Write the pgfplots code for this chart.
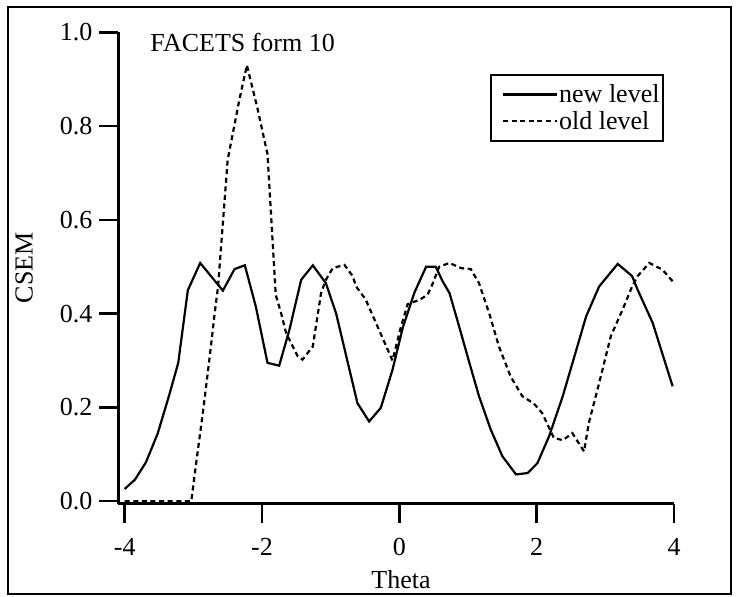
\documentclass[border=0pt]{standalone}
\usepackage{fontspec}
\setmainfont{Liberation Serif}
\usepackage{pgfplots}
\pgfplotsset{compat=1.18}
\begin{document}
\begin{tikzpicture}[font=\fontsize{13}{15.6}\selectfont]
\useasboundingbox (-59.25pt,-46.25pt) rectangle (311.75pt,251.75pt);
\draw[line width=1.2pt] (-55.25pt,-45.25pt) rectangle (306.25pt,248.25pt);
\begin{axis}[
  at={(0pt,0pt)}, anchor=south west,
  scale only axis, width=277.75pt, height=235.6pt,
  xmin=-4.09, xmax=4, ymin=-0.005, ymax=1,
  axis x line*=bottom, axis y line*=left,
  axis line style={line width=1.3pt, -},
  xtick={-4,-2,0,2,4}, ytick={0,0.2,0.4,0.6,0.8,1},
  tick align=outside, major tick length=9.5pt,
  tick style={line width=1.3pt, black},
  minor tick num=0,
  /pgf/number format/assume math mode=true,
  yticklabel style={/pgf/number format/.cd, fixed, fixed zerofill, precision=1},
  xticklabel style={yshift=-4.5pt},
  xlabel={Theta}, ylabel={CSEM},
  xlabel style={at={(axis description cs:0.5086,-0.1411)}, anchor=north, inner sep=0pt},
  ylabel style={at={(axis description cs:-0.1863,0.5)}, anchor=north, inner sep=0pt},
  legend cell align=left,
  legend image code/.code={\path (-4.5pt,0pt); \draw[#1] (0pt,0pt) -- (27pt,0pt);},
  legend style={at={(axis cs:1.32,0.911)}, anchor=north west, draw=black, line width=1.0pt,
    inner xsep=1pt, inner ysep=3.7pt, row sep=1.2pt,
    nodes={inner ysep=1.5pt, inner xsep=0.5pt, text height=8.6pt, text depth=0.5pt},
    font=\fontsize{13}{15.6}\selectfont},
]
\addplot[black, line width=1.1pt, solid] coordinates {
(-4.0,0.026) (-3.85,0.046) (-3.69,0.083) (-3.52,0.144) (-3.35,0.227) (-3.22,0.295)
(-3.08,0.45) (-2.90,0.508) (-2.57,0.449) (-2.40,0.495) (-2.25,0.503) (-2.09,0.415)
(-1.92,0.295) (-1.75,0.289) (-1.60,0.366) (-1.43,0.472) (-1.26,0.503) (-1.07,0.465)
(-0.92,0.40) (-0.75,0.295) (-0.61,0.209) (-0.44,0.170) (-0.27,0.199) (-0.10,0.28)
(0.05,0.37) (0.22,0.445) (0.39,0.50) (0.53,0.50) (0.63,0.469) (0.73,0.444) (0.87,0.373)
(1.02,0.295) (1.16,0.224) (1.33,0.153) (1.50,0.096) (1.70,0.057) (1.87,0.060)
(2.01,0.081) (2.18,0.138) (2.38,0.224) (2.55,0.309) (2.72,0.394) (2.91,0.458)
(3.18,0.506) (3.39,0.48) (3.47,0.451) (3.69,0.38) (3.98,0.245)
};
\addlegendentry{new level}
\addplot[black, line width=1.1pt, dash pattern=on 2.5pt off 1.8pt] coordinates {
(-4.0,0.0) (-3.03,0.0) (-2.96,0.08) (-2.86,0.19) (-2.76,0.31) (-2.69,0.40) (-2.64,0.458)
(-2.50,0.728) (-2.33,0.856) (-2.22,0.93) (-2.07,0.84) (-1.92,0.74) (-1.80,0.44)
(-1.72,0.40) (-1.65,0.359) (-1.48,0.309) (-1.41,0.302) (-1.26,0.33) (-1.14,0.444)
(-1.07,0.472) (-0.97,0.497) (-0.80,0.504) (-0.68,0.48) (-0.63,0.458) (-0.49,0.43)
(-0.34,0.38) (-0.10,0.30) (0.02,0.37) (0.12,0.42) (0.30,0.43) (0.41,0.44) (0.48,0.462)
(0.58,0.50) (0.73,0.508) (0.90,0.497) (1.04,0.495) (1.16,0.465) (1.31,0.40) (1.45,0.33)
(1.62,0.266) (1.79,0.224) (1.96,0.208) (2.08,0.188) (2.25,0.135) (2.38,0.13) (2.52,0.145)
(2.69,0.106) (2.76,0.167) (2.91,0.252) (3.08,0.352) (3.25,0.408) (3.39,0.458) (3.47,0.48)
(3.64,0.508) (3.83,0.494) (3.98,0.469)
};
\addlegendentry{old level}
\node[anchor=base west, inner sep=0pt] at (axis cs:-3.63,0.959) {FACETS form 10};
\end{axis}
\end{tikzpicture}
\end{document}
